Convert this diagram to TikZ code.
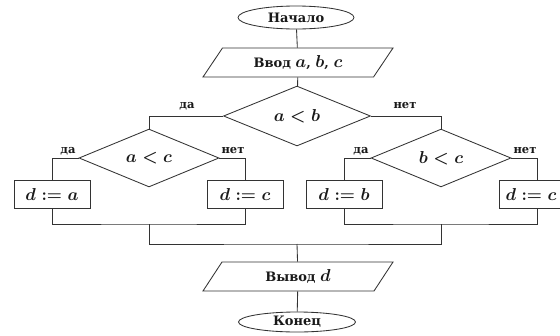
\documentclass[tikz,border=0pt]{standalone}
\usepackage{fontspec}
\setmainfont{DejaVu Serif}
\usetikzlibrary{shapes.geometric}
\newcommand{\mth}[1]{{\fontsize{16.5}{19}\selectfont$#1$}}
\tikzset{
  ln/.style={draw=black!80, line width=0.85pt},
  txt/.style={text=black!90, font=\fontsize{13}{15}\selectfont\bfseries\boldmath},
  term/.style={ellipse, ln, txt, inner sep=0pt},
  io/.style={trapezium, trapezium left angle=36, trapezium right angle=144,
     trapezium stretches body, ln, txt, inner sep=0pt, minimum height=29pt, minimum width=190pt},
  cond/.style={diamond, ln, txt, inner sep=0pt},
  act/.style={rectangle, ln, txt, inner sep=0pt, minimum width=76pt, minimum height=28pt},
  lbl/.style={inner sep=0pt, text=black!90, font=\fontsize{11.5}{13}\selectfont\bfseries}
}
\begin{document}
\begin{tikzpicture}[x=1pt,y=-1pt]
\clip (0,0) rectangle (560,335);
\fill[white] (0,0) rectangle (560,335);
\node[term, minimum width=116pt, minimum height=23pt] (start) at (296,17.5) {Начало};
\node[io] (in) at (298,62.5) {Ввод \mth{a}, \mth{b}, \mth{c}};
\node[cond, minimum width=147pt, minimum height=38pt] (ab) at (297,116) {\mth{a<b}};
\node[cond, minimum width=140pt, minimum height=39pt] (ac) at (149,158) {\mth{a<c}};
\node[cond, minimum width=140pt, minimum height=39pt] (bc) at (441,158) {\mth{b<c}};
\node[act] (b1) at (52,194) {\mth{d:=a}};
\node[act] (b2) at (245,194) {\mth{d:=c}};
\node[act] (b3) at (344,194) {\mth{d:=b}};
\node[act] (b4) at (537,194) {\hspace*{-12pt}\mth{d:=c}};
\node[io] (out) at (298,276.5) {Вывод \mth{d}};
\node[term, minimum width=117pt, minimum height=20pt] (end) at (297,322) {Конец};
\coordinate (j1) at (149,224);
\coordinate (j2) at (441,224);
\coordinate (j3) at (297,244);
\node[lbl] (l1) at (187,106) {да};
\node[lbl] (l2) at (405,106) {нет};
\node[lbl] (l3) at (68,151) {да};
\node[lbl] (l4) at (233,151) {нет};
\node[lbl] (l5) at (361,151) {да};
\node[lbl] (l6) at (525,151) {нет};
\draw[ln] (start) -- (in);
\draw[ln] (in) -- (ab);
\draw[ln] (ab.west) -| (ac.north);
\draw[ln] (ab.east) -| (bc.north);
\draw[ln] (ac.west) -| (b1.north);
\draw[ln] (ac.east) -| (b2.north);
\draw[ln] (bc.west) -| (b3.north);
\draw[ln] (bc.east) -| (b4.north);
\draw[ln] (b1.south) |- (j1) -| (b2.south);
\draw[ln] (b3.south) |- (j2) -| (b4.south);
\draw[ln] (j1) |- (j3) -| (j2);
\draw[ln] (j3) -- (out);
\draw[ln] (out) -- (end);
\end{tikzpicture}
\end{document}
